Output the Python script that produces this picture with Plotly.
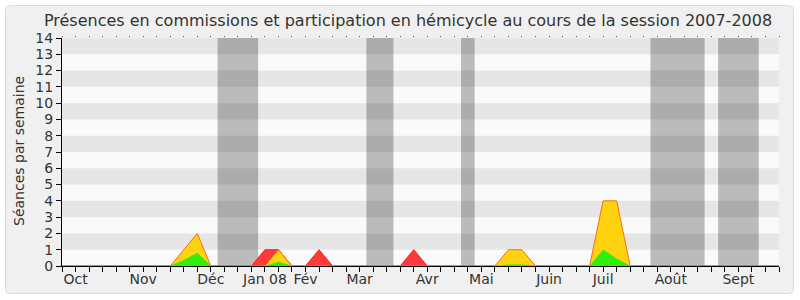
import plotly.graph_objects as go

# week index (0 = first week of Oct 2007)
weeks = list(range(54))

# participation hémicycle (red)
hemicycle = [0,0,0,0,0,0,0,0,0,0, 0,0,0,0,0,1,1,0,0,1, 0,0,0,0,0,0,1,0,0,0,
             0,0,0,0,0,0,0,0,0,0, 0,0,0,0,0,0,0,0,0,0, 0,0,0,0]
# présences en commission (yellow)
commission = [0,0,0,0,0,0,0,0,0,1, 2,0,0,0,0,0,1,0,0,0, 0,0,0,0,0,0,0,0,0,0,
              0,0,0,1,1,0,0,0,0,0, 4,4,0,0,0,0,0,0,0,0, 0,0,0,0]
# interventions en commission (green)
interventions = [0,0,0,0,0,0,0,0,0,0.35, 0.8,0,0,0,0,0,0.25,0,0,0, 0,0,0,0,0,0,0,0,0,0,
                 0,0,0,0.08,0.08,0,0,0,0,0, 1.0,0.45,0,0,0,0,0,0,0,0, 0,0,0,0]

month_pos = [1, 6, 11, 15, 18, 22, 27, 31, 36, 40, 45, 50]
month_labels = ["Oct", "Nov", "Déc", "Jan 08", "Fév", "Mar", "Avr", "Mai", "Juin", "Juil", "Août", "Sept"]

# vacation periods (week index ranges)
vac_start = [11.5, 22.5, 29.5, 43.5, 48.5]
vac_end = [14.5, 24.5, 30.5, 47.5, 51.5]

FONT = "DejaVu Sans"
W, H = 800, 300
L, R, T, B = 62, 21, 38, 34
pw, ph = W - L - R, H - T - B

def px2paper(x, y):
    return (x - L) / pw, (H - B - y) / ph

fig = go.Figure()
fig.add_trace(go.Scatter(x=weeks, y=hemicycle, mode="lines", fill="tozeroy",
                         fillcolor="#ff3a3a", line=dict(color="#ff1a1a", width=1),
                         hoverinfo="skip", showlegend=False))
fig.add_trace(go.Scatter(x=weeks, y=commission, mode="lines", fill="tozeroy",
                         fillcolor="#ffd30f", line=dict(color="#ff6a10", width=1),
                         hoverinfo="skip", showlegend=False))
fig.add_trace(go.Scatter(x=weeks, y=interventions, mode="lines", fill="tozeroy",
                         fillcolor="#33ee0a", line=dict(color="#33ee0a", width=0.5),
                         hoverinfo="skip", showlegend=False))
fig.add_trace(go.Scatter(x=[0], y=[0], xaxis="x2", mode="markers",
                         marker=dict(opacity=0), hoverinfo="skip", showlegend=False))

shapes = []
# rounded outer panel
x0, y1 = px2paper(5.5, 5.5)
x1, y0 = px2paper(793.5, 293.5)
rx, ry = 5 / pw, 5 / ph
path = (f"M {x0+rx},{y1} L {x1-rx},{y1} Q {x1},{y1} {x1},{y1-ry} "
        f"L {x1},{y0+ry} Q {x1},{y0} {x1-rx},{y0} L {x0+rx},{y0} "
        f"Q {x0},{y0} {x0},{y0+ry} L {x0},{y1-ry} Q {x0},{y1} {x0+rx},{y1} Z")
shapes.append(dict(type="path", path=path, xref="paper", yref="paper",
                   fillcolor="#f0f0f0", line=dict(color="#dcdcdc", width=1), layer="below"))
# plot background
shapes.append(dict(type="rect", xref="paper", yref="paper", x0=0, x1=1, y0=0, y1=1,
                   fillcolor="#fafafa", line=dict(width=0), layer="below"))
for k in range(1, 14, 2):
    shapes.append(dict(type="rect", xref="paper", yref="y", x0=0, x1=1, y0=k, y1=k + 1,
                       fillcolor="#e6e6e6", line=dict(width=0), layer="below"))
for a, b in zip(vac_start, vac_end):
    shapes.append(dict(type="rect", xref="x", yref="paper", x0=a, x1=b, y0=0, y1=1,
                       fillcolor="rgba(0,0,0,0.25)", line=dict(width=0), layer="below"))

tx, ty = px2paper(19, 151)
fig.update_layout(
    width=W, height=H,
    margin=dict(l=L, r=R, t=T, b=B),
    paper_bgcolor="white", plot_bgcolor="rgba(0,0,0,0)",
    font=dict(family=FONT, size=14, color="#333333"),
    title=dict(text="Présences en commissions et participation en hémicycle au cours de la session 2007-2008",
               x=(408 - L) / pw, xref="paper", xanchor="center",
               y=1 - 20 / H, yref="container", yanchor="middle",
               font=dict(family=FONT, size=16, color="#333333")),
    xaxis=dict(range=[0, 53], showgrid=False, zeroline=False,
               tickmode="array", tickvals=month_pos, ticktext=month_labels, ticks="",
               minor=dict(tickmode="linear", tick0=0, dtick=1, ticks="outside",
                          ticklen=5, tickcolor="#000000", showgrid=False),
               showline=True, linecolor="#000000", linewidth=1,
               tickfont=dict(family=FONT, size=14, color="#333333")),
    xaxis2=dict(range=[0, 53], overlaying="x", side="top", anchor="y",
                showgrid=False, zeroline=False, showline=False, showticklabels=False,
                tickmode="linear", tick0=0, dtick=1, ticks="outside", ticklen=1,
                tickcolor="#555555"),
    yaxis=dict(range=[0, 14], showgrid=False, zeroline=False,
               tickmode="linear", tick0=0, dtick=1, ticks="outside", ticklen=5,
               tickcolor="#000000", showline=True, linecolor="#000000", linewidth=1,
               tickfont=dict(family=FONT, size=14, color="#333333")),
    shapes=shapes,
    annotations=[dict(text="Séances par semaine", xref="paper", yref="paper",
                      x=tx, y=ty, xanchor="center", yanchor="middle",
                      textangle=-90, showarrow=False,
                      font=dict(family=FONT, size=14, color="#333333"))],
)

fig.write_html("out.html")
